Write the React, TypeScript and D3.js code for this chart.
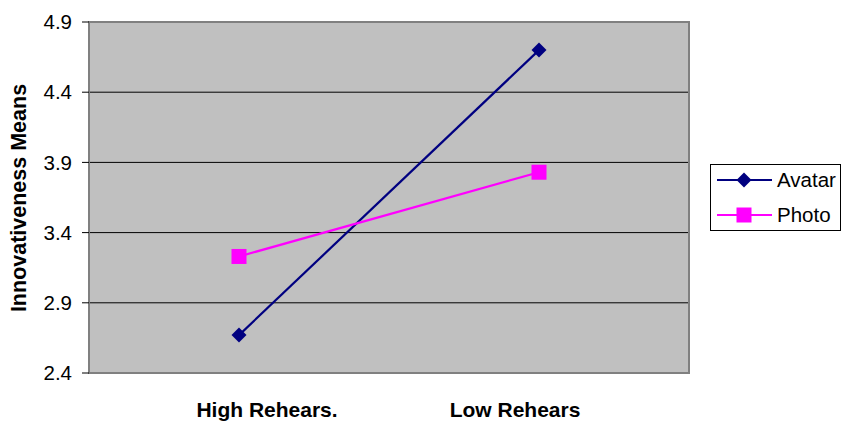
import React from "react";
import * as d3 from "d3";

const categories = ["High Rehears.", "Low Rehears"];
const avatar = [2.67, 4.70];
const photo = [3.23, 3.83];
const yTicks = [2.4, 2.9, 3.4, 3.9, 4.4, 4.9];
const seriesNames = ["Avatar", "Photo"];

const W = 841, H = 421;
const left = 89, right = 689, top = 22, bottom = 373;

export default function App() {
  const x = d3.scaleBand<string>().domain(categories).range([left, right]);
  const y = d3.scaleLinear().domain([2.4, 4.9]).range([bottom, top]);
  const xLabel = d3.scalePoint<string>().domain(categories).range([267, 515]);
  const cx = (c: string) => (x(c) as number) + x.bandwidth() / 2;
  const line = d3.line<number>().x((_, i) => cx(categories[i])).y((v) => y(v));
  const font = "Arial, 'Liberation Sans', sans-serif";
  const diamond = (r: number) => `M0,${-r}L${r},0L0,${r}L${-r},0Z`;
  const square = (s: number) => `M${-s / 2},${-s / 2}h${s}v${s}h${-s}Z`;

  return (
    <svg width={W} height={H} style={{ position: "absolute", left: 0, top: 0, background: "#fff" }} fontFamily={font}>
      <rect x={left} y={top} width={right - left} height={bottom - top} fill="#C0C0C0" />
      {yTicks.slice(1, -1).map((t) => (
        <line key={t} x1={left} x2={right} y1={y(t)} y2={y(t)} stroke="#000" strokeWidth={1} />
      ))}
      <rect x={left} y={top} width={right - left} height={bottom - top} fill="none" stroke="#808080" strokeWidth={2} />
      {yTicks.map((t) => (
        <g key={t}>
          <line x1={left - 7} x2={left} y1={y(t)} y2={y(t)} stroke="#000" strokeWidth={1} />
          <text x={72} y={y(t)} dy="0.35em" textAnchor="end" fontSize={20.5} fill="#000">
            {t.toFixed(1)}
          </text>
        </g>
      ))}
      {categories.map((c) => (
        <text key={c} x={xLabel(c)} y={417} textAnchor="middle" fontSize={21} fontWeight="bold" fill="#000">
          {c}
        </text>
      ))}
      <text transform={`translate(26,198) rotate(-90)`} textAnchor="middle" fontSize={21.5} fontWeight="bold" fill="#000">
        Innovativeness Means
      </text>
      <path d={line(avatar) || ""} fill="none" stroke="#000080" strokeWidth={2.2} />
      <path d={line(photo) || ""} fill="none" stroke="#FF00FF" strokeWidth={2.2} />
      {avatar.map((v, i) => (
        <path key={"a" + i} d={diamond(7.5)} transform={`translate(${cx(categories[i])},${y(v)})`} fill="#000080" />
      ))}
      {photo.map((v, i) => (
        <path key={"p" + i} d={square(15)} transform={`translate(${cx(categories[i])},${y(v)})`} fill="#FF00FF" />
      ))}
      <rect x={710.5} y={164.5} width={130} height={66} fill="#fff" stroke="#000" strokeWidth={1} />
      {seriesNames.map((n, i) => {
        const ly = 180 + i * 35;
        const col = i === 0 ? "#000080" : "#FF00FF";
        return (
          <g key={n}>
            <line x1={717} x2={772} y1={ly} y2={ly} stroke={col} strokeWidth={2.2} />
            {i === 0 ? (
              <path d={diamond(7.5)} transform={`translate(744,${ly})`} fill={col} />
            ) : (
              <path d={square(15)} transform={`translate(744,${ly})`} fill={col} />
            )}
            <text x={777} y={ly} dy="0.35em" fontSize={20.5} fill="#000">
              {n}
            </text>
          </g>
        );
      })}
    </svg>
  );
}
